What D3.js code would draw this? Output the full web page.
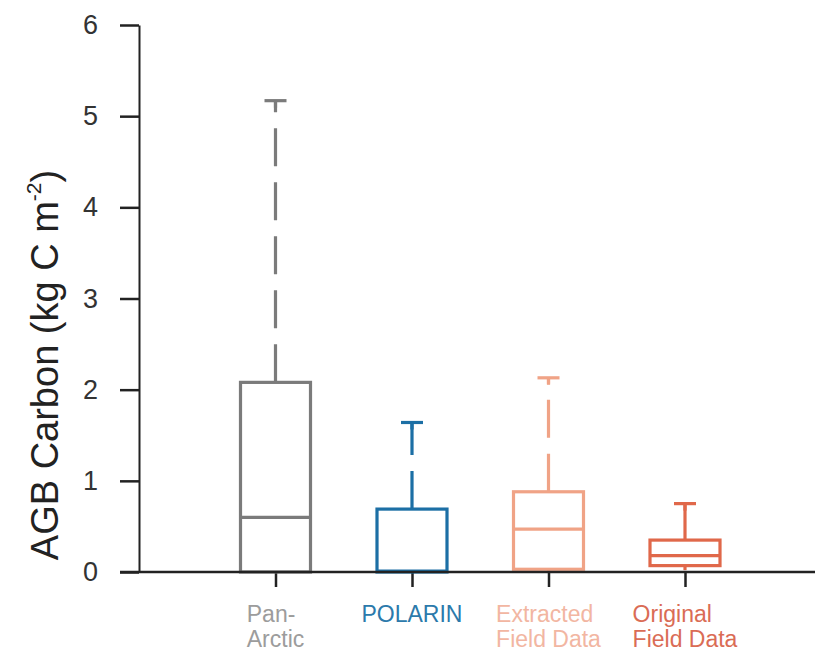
<!DOCTYPE html>
<html><head><meta charset="utf-8">
<script src="https://cdn.jsdelivr.net/npm/d3@7"></script>
<style>body{margin:0;background:#fff;} svg{display:block;}</style>
</head><body>
<svg id="chart" width="815" height="652"></svg>
<script>
// ---- data ----
const categories = ["Pan-Arctic", "POLARIN", "Extracted Field Data", "Original Field Data"];
const labelLines = [["Pan-", "Arctic"], ["POLARIN"], ["Extracted", "Field Data"], ["Original", "Field Data"]];
const whiskerLow  = [0.00, 0.00, 0.00, 0.02];
const q1Values    = [0.00, 0.00, 0.03, 0.07];
const medianValues= [0.60, 0.01, 0.47, 0.18];
const q3Values    = [2.08, 0.69, 0.88, 0.35];
const whiskerHigh = [5.17, 1.64, 2.13, 0.75];
const yTicks = [0, 1, 2, 3, 4, 5, 6];
const boxColors   = ["#7b7b7b", "#1c6fa5", "#f0a386", "#e0684a"];
const labelColors = ["#9c9c9c", "#2c7aab", "#f2b6a2", "#da6c55"];

const svg = d3.select("#chart");
const font = "'Liberation Sans', Arial, Helvetica, sans-serif";

const x = d3.scaleLinear().domain([0, categories.length + 1]).range([139, 821.5]);
const y = d3.scaleLinear().domain([0, 6]).range([572, 25]);
const boxW = 70, capW = 22;

// axes
const yAxis = svg.append("g").attr("transform", "translate(139,0)")
  .call(d3.axisLeft(y).tickValues(yTicks).tickFormat(d3.format("d")).tickSize(19).tickPadding(22).tickSizeOuter(0));
yAxis.select(".domain").attr("stroke", "#222").attr("stroke-width", 2);
yAxis.selectAll(".tick line").attr("stroke", "#222").attr("stroke-width", 2.5);
yAxis.selectAll(".tick text").attr("font-family", font).attr("font-size", 27).attr("fill", "#333");

const xAxis = svg.append("g").attr("transform", `translate(0,${y(0)})`)
  .call(d3.axisBottom(x).tickValues(d3.range(1, categories.length + 1)).tickSize(15).tickFormat("").tickSizeOuter(0));
xAxis.select(".domain").remove();
xAxis.selectAll(".tick line").attr("stroke", "#222").attr("stroke-width", 2.5);

// boxes
categories.forEach((c, i) => {
  const cx = x(i + 1);
  const g = svg.append("g");
  const col = boxColors[i];
  // upper whisker (dashed, from box top up)
  g.append("line").attr("x1", cx).attr("x2", cx).attr("y1", y(q3Values[i])).attr("y2", y(whiskerHigh[i]))
    .attr("stroke", col).attr("stroke-width", 3.2).attr("stroke-dasharray", "38,16");
  g.append("line").attr("x1", cx - capW / 2).attr("x2", cx + capW / 2)
    .attr("y1", y(whiskerHigh[i])).attr("y2", y(whiskerHigh[i])).attr("stroke", col).attr("stroke-width", 3.2);
  g.append("line").attr("x1", cx).attr("x2", cx).attr("y1", y(whiskerHigh[i])).attr("y2", y(whiskerHigh[i]) + 7)
    .attr("stroke", col).attr("stroke-width", 3.2);
  // lower whisker
  g.append("line").attr("x1", cx).attr("x2", cx).attr("y1", y(q1Values[i])).attr("y2", y(whiskerLow[i]))
    .attr("stroke", col).attr("stroke-width", 3.2);
  // box
  g.append("rect").attr("x", cx - boxW / 2).attr("width", boxW)
    .attr("y", y(q3Values[i])).attr("height", y(q1Values[i]) - y(q3Values[i]))
    .attr("fill", "none").attr("stroke", col).attr("stroke-width", 3.2);
  g.append("line").attr("x1", cx - boxW / 2).attr("x2", cx + boxW / 2)
    .attr("y1", y(medianValues[i])).attr("y2", y(medianValues[i])).attr("stroke", col).attr("stroke-width", 3.2);
});
// baseline on top
svg.append("line").attr("x1", 120).attr("x2", 815).attr("y1", y(0)).attr("y2", y(0))
  .attr("stroke", "#222").attr("stroke-width", 2.5);

// category labels (left-aligned block, centered under the tick)
labelLines.forEach((lines, i) => {
  const cx = x(i + 1);
  const t = svg.append("text").attr("font-family", font).attr("font-size", 23).attr("fill", labelColors[i]);
  lines.forEach((ln, j) => {
    t.append("tspan").attr("y", 622 + j * 25).text(ln);
  });
  let maxW = 0;
  t.selectAll("tspan").each(function () { maxW = Math.max(maxW, this.getComputedTextLength()); });
  t.selectAll("tspan").attr("x", cx - maxW / 2);
});

// y title
const title = svg.append("text").attr("font-family", font).attr("font-size", 38).attr("fill", "#222")
  .attr("text-anchor", "middle").attr("transform", "translate(58,365) rotate(-90)");
title.append("tspan").text("AGB Carbon (kg C m");
title.append("tspan").attr("font-size", 21).attr("dy", -17).text("-2");
title.append("tspan").attr("dy", 17).text(")");
</script>
</body></html>
